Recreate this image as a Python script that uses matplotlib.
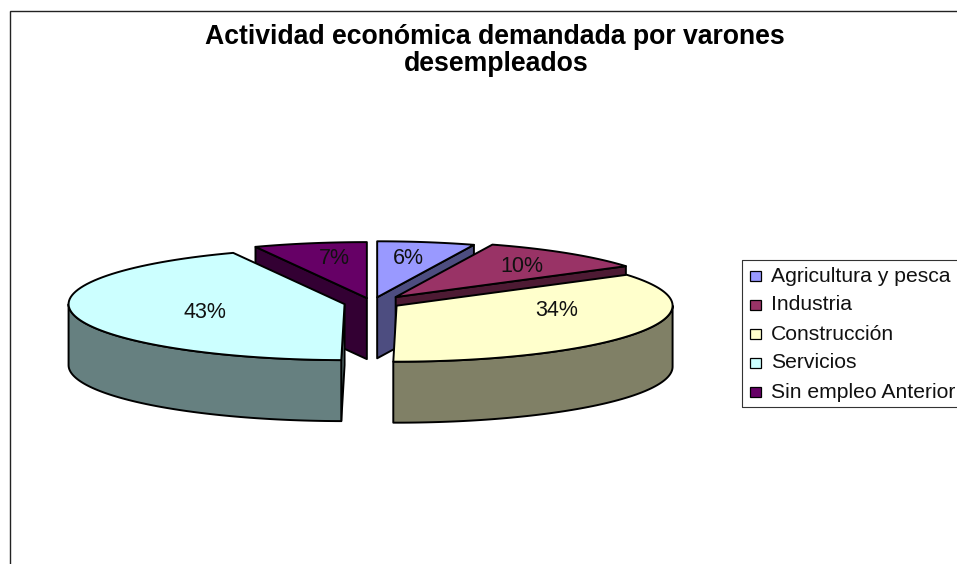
import numpy as np
import matplotlib
matplotlib.use('Agg')
import matplotlib.pyplot as plt
from matplotlib.patches import Polygon, Rectangle

# data
categories = ['Agricultura y pesca', 'Industria', 'Construcción', 'Servicios', 'Sin empleo Anterior']
shares = [5.7, 10.0, 34.49, 43.2, 6.61]
colors = ['#9999FF', '#993366', '#FFFFCC', '#CCFFFF', '#660066']
side_colors = ['#4D4D80', '#4D1A33', '#808066', '#668080', '#330033']
explode = [29, 38, 28, 28, 25]
title_lines = ['Actividad económica demandada por varones', 'desempleados']

# layout, in pixels of the picture
CX, CY = 372, 303
RX, RY = 276, 56
DEPTH = 61
LABEL_X = [408, 522, 557, 205, 334]
LABEL_Y = [258, 266, 311, 313, 258]
LEGEND_Y = [276, 305, 334, 363, 392]

plt.rcParams['font.family'] = ['Liberation Sans', 'DejaVu Sans']

fig = plt.figure(figsize=(9.57, 5.64), dpi=100, facecolor='white')
ax = fig.add_axes([0, 0, 1, 1])
ax.set_xlim(0, 957)
ax.set_ylim(564, 0)
ax.axis('off')

LW = 1.4


def rim(ax0, ay0, a, b):
    t = np.deg2rad(np.linspace(a, b, 80))
    return np.column_stack([ax0 + RX * np.sin(t), ay0 - RY * np.cos(t)])


def face(pts, color):
    ax.add_patch(Polygon(pts, closed=True, facecolor=color, edgecolor='black',
                         linewidth=LW, joinstyle='round'))


# angles run clockwise from north
edges = np.concatenate([[0], np.cumsum(shares)]) * 3.6
order = [4, 0, 1, 2, 3]  # back slices first
for i in order:
    a, b = edges[i], edges[i + 1]
    mid = np.deg2rad((a + b) / 2)
    x0 = CX + explode[i] * np.sin(mid)
    y0 = CY - explode[i] * 0.2 * np.cos(mid)
    down = np.array([0, DEPTH])
    apex = np.array([x0, y0])

    # cut faces that look towards the viewer
    if 180 < a < 360:
        p = rim(x0, y0, a, a)[0]
        face([apex, p, p + down, apex + down], side_colors[i])
    if 0 < b < 180:
        p = rim(x0, y0, b, b)[0]
        face([apex, p, p + down, apex + down], side_colors[i])

    # outer wall, front half only
    lo, hi = max(a, 90), min(b, 270)
    if lo < hi:
        r = rim(x0, y0, lo, hi)
        face(np.vstack([r, (r + down)[::-1]]), side_colors[i])

    # top
    face(np.vstack([[apex], rim(x0, y0, a, b)]), colors[i])

for i in range(len(shares)):
    ax.text(LABEL_X[i], LABEL_Y[i], f'{round(shares[i])}%', fontsize=15.5,
            ha='center', va='center', color='#111111')

# title
ax.text(495, 37, title_lines[0], fontsize=19.2, fontweight='bold', ha='center', va='center')
ax.text(496, 64, title_lines[1], fontsize=19.2, fontweight='bold', ha='center', va='center')

# chart frame, runs off the right and bottom of the picture
ax.plot([9.5, 9.5, 957], [564, 11, 11], color='#222222', lw=1.0, solid_joinstyle='miter')

# legend box, also cut by the right side
ax.plot([957, 741.5, 741.5, 957], [260, 260, 407, 407], color='#333333', lw=0.8)
for i, name in enumerate(categories):
    ax.add_patch(Rectangle((750, LEGEND_Y[i] - 5), 11, 10, facecolor=colors[i],
                           edgecolor='black', linewidth=0.9))
    ax.text(771, LEGEND_Y[i], name, fontsize=15.2, ha='left', va='center', color='#111111')

fig.savefig('out.png', dpi=100)
